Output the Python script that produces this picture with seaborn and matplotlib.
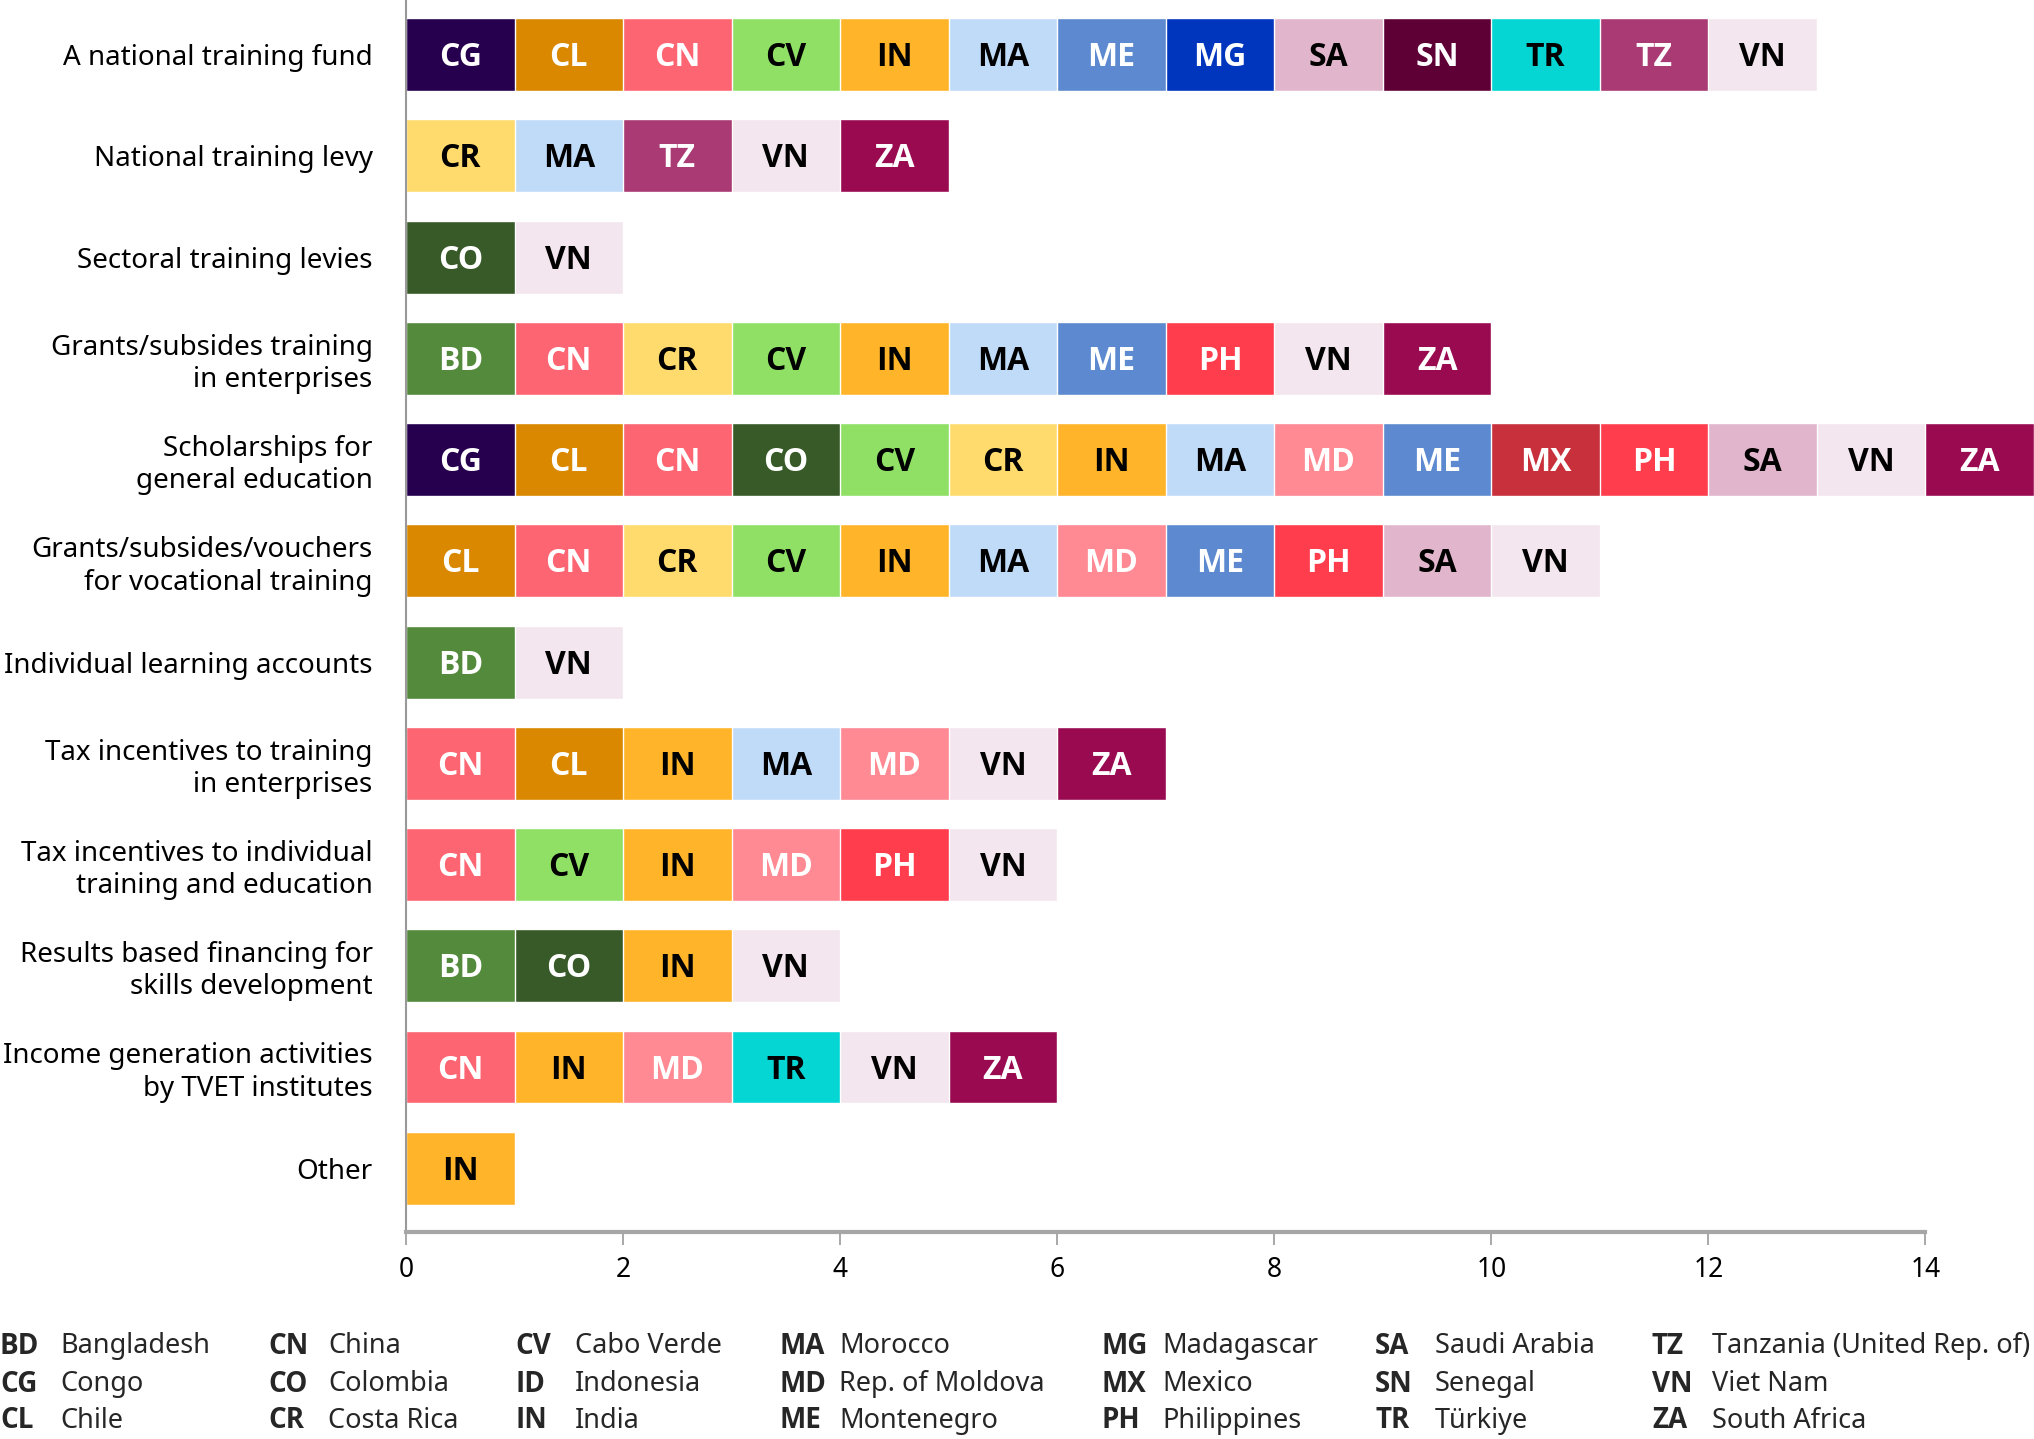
import numpy as np
import pandas as pd
import matplotlib.pyplot as plt
import seaborn as sns

sns.set_theme(style="white")
plt.rcParams["font.family"] = ["Noto Sans", "DejaVu Sans"]
BOLD_FONT = ["Open Sans", "DejaVu Sans"]

# ── Data ────────────────────────────────────────────────────────────────
categories = [
    "A national training fund",
    "National training levy",
    "Sectoral training levies",
    "Grants/subsides training\nin enterprises",
    "Scholarships for\ngeneral education",
    "Grants/subsides/vouchers\nfor vocational training",
    "Individual learning accounts",
    "Tax incentives to training\nin enterprises",
    "Tax incentives to individual\ntraining and education",
    "Results based financing for\nskills development",
    "Income generation activities\nby TVET institutes",
    "Other",
]

national_fund = ["CG", "CL", "CN", "CV", "IN", "MA", "ME", "MG", "SA", "SN", "TR", "TZ", "VN"]
national_levy = ["CR", "MA", "TZ", "VN", "ZA"]
sectoral_levies = ["CO", "VN"]
grants_enterprises = ["BD", "CN", "CR", "CV", "IN", "MA", "ME", "PH", "VN", "ZA"]
scholarships = ["CG", "CL", "CN", "CO", "CV", "CR", "IN", "MA", "MD", "ME", "MX", "PH", "SA", "VN", "ZA"]
vouchers_vocational = ["CL", "CN", "CR", "CV", "IN", "MA", "MD", "ME", "PH", "SA", "VN"]
learning_accounts = ["BD", "VN"]
tax_enterprises = ["CN", "CL", "IN", "MA", "MD", "VN", "ZA"]
tax_individual = ["CN", "CV", "IN", "MD", "PH", "VN"]
results_based = ["BD", "CO", "IN", "VN"]
income_generation = ["CN", "IN", "MD", "TR", "VN", "ZA"]
other = ["IN"]

rows = [national_fund, national_levy, sectoral_levies, grants_enterprises,
        scholarships, vouchers_vocational, learning_accounts, tax_enterprises,
        tax_individual, results_based, income_generation, other]

country_codes = ["BD", "CG", "CL", "CN", "CO", "CR", "CV", "ID", "IN", "MA", "MD",
                 "ME", "MG", "MX", "PH", "SA", "SN", "TR", "TZ", "VN", "ZA"]
country_names = ["Bangladesh", "Congo", "Chile", "China", "Colombia", "Costa Rica",
                 "Cabo Verde", "Indonesia", "India", "Morocco", "Rep. of Moldova",
                 "Montenegro", "Madagascar", "Mexico", "Philippines", "Saudi Arabia",
                 "Senegal", "Türkiye", "Tanzania (United Rep. of)", "Viet Nam", "South Africa"]

palette = {
    "BD": "#548a3c", "CG": "#26004f", "CL": "#d98800", "CN": "#fe6573",
    "CO": "#375a28", "CR": "#ffdb6d", "CV": "#8fe065", "ID": "#7fb2e5",
    "IN": "#ffb42a", "MA": "#c0dbf7", "MD": "#ff8a93", "ME": "#5c89cf",
    "MG": "#0035bd", "MX": "#c8303b", "PH": "#ff3d4d", "SA": "#e1b6cd",
    "SN": "#5e0035", "TR": "#05d5d3", "TZ": "#aa3a74", "VN": "#f4e6ee",
    "ZA": "#990a51",
}
dark_text = {"CV", "CR", "IN", "MA", "SA", "TR", "VN", "ID"}

# long table: one segment per country in each row
records = []
for cat, codes in zip(categories, rows):
    for k, code in enumerate(codes):
        records.append({"cat": cat, "code": code, "pos": k, "end": k + 1})
df = pd.DataFrame(records)

# ── Figure ──────────────────────────────────────────────────────────────
fig = plt.figure(figsize=(20.34, 14.39), dpi=100)
ax = fig.add_axes([406 / 2034, 1 - 1232 / 1439, 1 - 406 / 2034, 1232 / 1439])

# stacked bars: longest segments first, shorter ones drawn on top
for k in sorted(df["pos"].unique(), reverse=True):
    sub = df[df["pos"] == k]
    sns.barplot(data=sub, x="end", y="cat", hue="code", palette=palette,
                order=categories, dodge=False, width=0.72, orient="h",
                errorbar=None, saturation=1, legend=False,
                edgecolor="white", linewidth=1, ax=ax)

for _, r in df.iterrows():
    i = categories.index(r["cat"])
    ax.text(r["pos"] + 0.5, i + 0.03, r["code"], ha="center", va="center",
            fontsize=23, fontweight="bold", family=BOLD_FONT,
            color="black" if r["code"] in dark_text else "white")

ax.set_xlim(0, 15)
ax.set_ylim(11.63, -0.54)
ax.set_xticks(np.arange(0, 15, 2))
ax.set_xlabel("")
ax.set_ylabel("")
ax.tick_params(axis="x", labelsize=19, colors="#999999", labelcolor="black",
               length=9, width=1.2, direction="out", bottom=True, pad=8)
ax.tick_params(axis="y", labelsize=20, length=0, pad=24, labelcolor="black")
for lbl in ax.get_yticklabels():
    lbl.set_multialignment("right")

for s in ["top", "right"]:
    ax.spines[s].set_visible(False)
ax.spines["left"].set_color("#999999")
ax.spines["left"].set_linewidth(1.5)
ax.spines["bottom"].set_color("#a6a6a6")
ax.spines["bottom"].set_linewidth(3)
ax.spines["bottom"].set_bounds(0, 14)

# ── Country legend ──────────────────────────────────────────────────────
col_code_x = [0, 268, 515, 779, 1102, 1375, 1652]
row_y = [1346, 1384, 1421]
for idx, (code, name) in enumerate(zip(country_codes, country_names)):
    c, rr = divmod(idx, 3)
    x = col_code_x[c] / 2034
    y = 1 - row_y[rr] / 1439
    fig.text(x, y, code, fontsize=20, fontweight="bold", family=BOLD_FONT,
             va="center", ha="left")
    fig.text(x + 60 / 2034, y, name, fontsize=19.5, va="center", ha="left")

fig.savefig("out.png", dpi=100)
